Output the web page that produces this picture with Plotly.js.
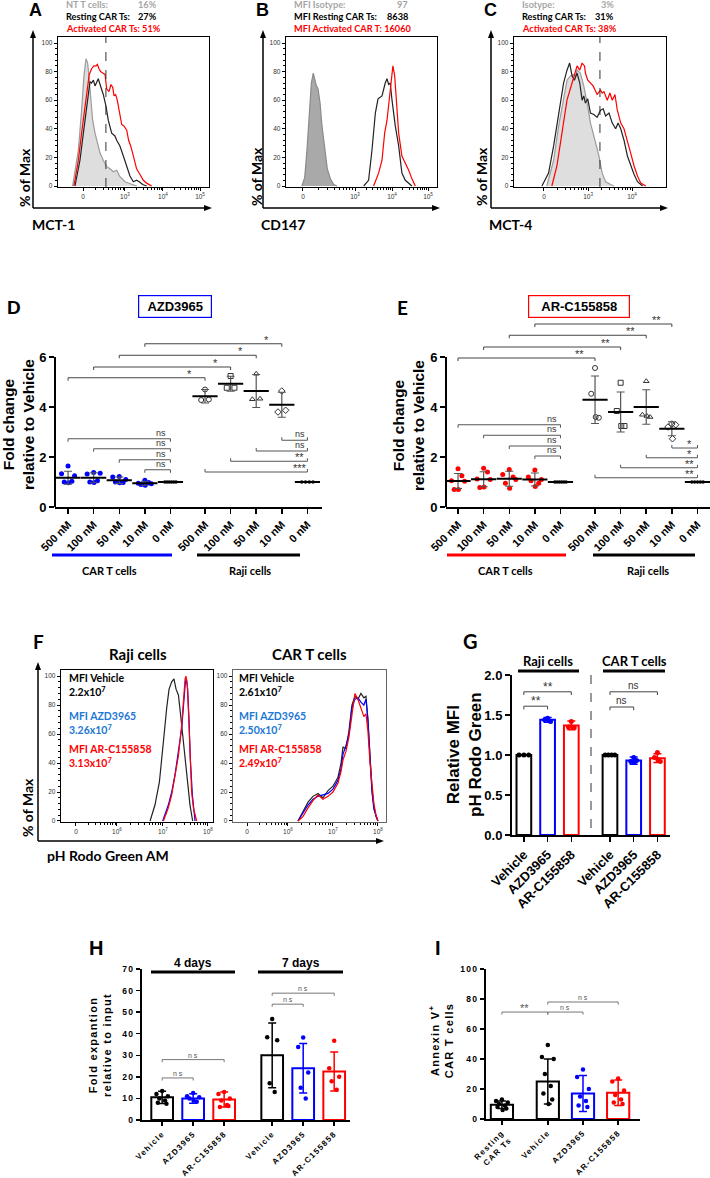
<!DOCTYPE html>
<html><head><meta charset="utf-8">
<script src="https://cdn.plot.ly/plotly-3.0.1.min.js"></script>
<style>html,body{margin:0;padding:0;background:#fff;}#chart{width:710px;height:1178px;}</style>
</head><body><div id="chart"></div>
<script>
// ===================== DATA =====================
// A: MCT-1 histograms (x: display channel 0-1024, y: % of max)
const A_nt_x=[99,138,160,176,190,201,212,221,235,251,267,285,307,330,353,375,398,420,454,499,533];
const A_nt_y=[0,25,53,77,89,86,74,60,46,37,30,23,18,13.5,12,10,11,6.5,3,1.4,0];
const A_rest_x=[115,149,172,190,206,217,228,240,251,262,273,285,296,307,325,341,364,386,398,420,443,466,488,511,533,551,574,601];
const A_rest_y=[0,18,37,53,67,73,72,74,70,73,75,71,68,64,56,46,37,35,32,28,21,14,7,3,4,3,1,0];
const A_act_x=[108,138,160,183,199,212,228,244,258,267,278,289,303,319,330,346,359,371,380,391,402,416,432,447,466,479,493,511,533,556,579,601,635];
const A_act_y=[0,18,37,56,70,78,82,84,84,85,82,80,79,78,68,66,71,69,63,64,60,53,43,42,39,32,28,21,12,8,4,2,0];
const A_gate=325;
const A_labels=['NT T cells:','Resting CAR Ts:','Activated CAR Ts:'];
const A_values=['16%','27%','51%'];
// B: CD147
const B_iso_x=[108,127,142,158,172,185,194,206,217,231,244,262,280,301,323,346];
const B_iso_y=[0,6,25,55,72,79,74,70,68,58,42,25,12,5,1,0];
const B_rest_x=[527,560,583,606,624,651,673,685,696,707,719,741,764,786,809,832,854];
const B_rest_y=[0,4,25,51,61,63,72,75,71,72,60,42,28,9,4,2,0];
const B_act_x=[594,628,651,669,685,701,714,725,737,753,764,786,809,832,854,877];
const B_act_y=[0,9,18,37,46,60,74,84,77,56,37,21,16,11,5,0];
const B_labels=['MFI Isotype:','MFI Resting CAR Ts:','MFI Activated CAR T:'];
const B_values=['97','8638','16060'];
// C: MCT-4
const C_iso_x=[221,267,301,334,357,380,402,414,425,447,470,493,515,533,549,572,594,617,651,673];
const C_iso_y=[0,18,42,60,74,77,78,77,81,79,70,58,44,37,30,21,9,3,1,0];
const C_rest_x=[188,233,267,301,334,357,375,391,407,425,443,459,470,481,497,515,538,560,583,601,617,640,662,685,701,719,741,764,786,809,832,866];
const C_rest_y=[0,9,28,51,72,81,86,77,74,79,72,60,63,58,61,51,50,48,53,54,49,51,44,40,44,40,32,21,14,8,3,0];
const C_act_x=[255,289,323,357,391,414,425,443,459,475,481,497,515,533,560,583,594,606,628,646,662,680,696,719,741,764,786,809,832,854,888];
const C_act_y=[0,14,37,60,72,81,84,81,86,84,79,74,72,70,64,67,65,66,60,65,60,64,53,44,40,32,23,14,7,2,0];
const C_gate=579;
const C_labels=['Isotype:','Resting CAR Ts:','Activated CAR Ts:'];
const C_values=['3%','31%','38%'];

// D / E: fold change
const DE_cats=['500 nM','100 nM','50 nM','10 nM','0 nM','500 nM','100 nM','50 nM','10 nM','0 nM'];
const D_car_pts=[[1.64,1.33,1.25,1.0,0.97,1.03],[1.38,1.32,1.35,1.0,0.98,1.05],[1.22,1.2,1.1,1.0,0.97,0.98],[1.07,0.95,0.93,0.9,0.87,0.98],[1,1,1,1,1,1]];
const D_raji_pts=[[4.7,4.28,4.3],[5.24,4.77,4.77],[5.33,4.31,4.33],[4.64,3.8,3.87],[1,1,1,1]];
const D_mean=[1.17,1.17,1.07,0.95,1.0,4.43,4.93,4.64,4.09,1.0];
const D_sd=[0.26,0.2,0.13,0.08,0,0.27,0.3,0.66,0.5,0];
const E_car_pts=[[1.53,1.05,1.03,0.7,0.7,1.25],[1.55,1.12,1.1,0.78,0.8,1.4],[1.5,1.3,1.1,0.95,0.75,1.2],[1.48,1.2,1.1,1.05,0.82,0.95],[1,1,1,1,1,1]];
const E_raji_pts=[[5.56,4.53,3.57,3.6],[4.97,3.84,3.24,3.24],[5.03,3.69,3.6,3.64],[3.32,3.2,3.29,2.73],[1,1,1,1,1]];
const E_mean=[1.04,1.11,1.13,1.1,1.0,4.29,3.8,4.0,3.13,1.0];
const E_sd=[0.3,0.3,0.3,0.26,0,0.95,0.8,0.69,0.28,0];
// significance: [from, to, y, label]
const D_sig_top=[[0,5,5.17,'*'],[1,6,5.6,'*'],[2,7,6.07,'*'],[3,8,6.53,'*']];
const D_sig_car=[[0,4,2.73,'ns'],[1,4,2.33,'ns'],[2,4,1.89,'ns'],[3,4,1.49,'ns']];
const D_sig_raji=[[8,9,2.67,'ns'],[7,9,2.24,'ns'],[6,9,1.83,'**'],[5,9,1.4,'***']];
const E_sig_top=[[0,5,5.96,'**'],[1,6,6.4,'**'],[2,7,6.87,'**'],[3,8,7.32,'**']];
const E_sig_car=[[0,4,3.29,'ns'],[1,4,2.87,'ns'],[2,4,2.44,'ns'],[3,4,2.04,'ns']];
const E_sig_raji=[[8,9,2.36,'*'],[7,9,1.97,'*'],[6,9,1.57,'**'],[5,9,1.17,'**']];

// F: pH Rodo Green histograms
const F_raji_veh_x=[600,633,663,678,694,712,728,746,761,775,791,806,820,836,851,869,887];
const F_raji_veh_y=[0,11,27,41,59,78,91,96,98,91,87,73,59,41,27,11,0];
const F_raji_azd_x=[685,723,746,768,791,813,824,838,845,853,862,871,885,903];
const F_raji_azd_y=[0,11,20,32,48,64,78,96,98,91,71,43,18,0];
const F_raji_ar_x=[690,723,746,768,791,813,824,836,842,851,860,869,880,892,914];
const F_raji_ar_y=[0,9,18,32,45,66,82,98,100,94,73,43,20,9,0];
const F_car_x=[435,468,502,535,569,602,636,669,702,723,736,756,776,796,816,836,856,876,890,903,917,930,943,957,970];
const F_car_veh_y=[0,6,13,17,19,16,21,24,30,40,51,50,62,80,86,84,88,85,86,70,45,22,10,3,0];
const F_car_azd_y=[0,5,11,15,17,18,19,22,28,36,46,52,60,78,84,85,82,80,84,70,42,20,8,3,0];
const F_car_ar_y=[0,3,9,14,18,15,17,20,26,34,42,48,58,72,88,84,78,72,74,62,40,24,12,4,0];
const F_mfi_raji=['2.2','3.26','3.13'];
const F_mfi_car=['2.61','2.50','2.49'];

// G: relative MFI
const G_cats=['Vehicle','AZD3965','AR-C155858','Vehicle','AZD3965','AR-C155858'];
const G_mean=[1.0,1.44,1.37,1.0,0.93,0.96];
const G_sd=[0,0.03,0.055,0,0.045,0.055];
const G_pts=[[1,1,1],[1.46,1.44,1.42],[1.42,1.35,1.34],[1,1,1,1],[0.97,0.92,0.93,0.91],[1.03,0.97,0.92,0.94]];
const G_sig=[[0,1,1.61,'**'],[0,2,1.79,'**'],[3,4,1.6,'ns'],[3,5,1.79,'ns']];

// H: fold expansion
const H_cats=['Vehicle','AZD3965','AR-C155858','Vehicle','AZD3965','AR-C155858'];
const H_mean=[10.5,10,9.5,30,24,22.5];
const H_sd=[2.8,2.2,3.5,15,11.5,9];
const H_pts=[[13.5,12,11,10,9,8,7.5],[12.5,11,10.5,10,9,8.5],[13,12,10,9,7,6,6.5],[46.8,38.4,37,17,13],[38.3,33.8,22,15,10],[36.7,24,20,18,14]];
const H_sig=[[0,1,19.5,'n s'],[0,2,28,'n s'],[3,4,53.7,'n s'],[3,5,58.8,'n s']];

// I: Annexin V+
const I_cats=['Resting<br>CAR Ts','Vehicle','AZD3965','AR-C155858'];
const I_mean=[9.5,25,17,17.5];
const I_sd=[2.5,15,12,8.5];
const I_pts=[[13,12,11,10,9,8,7,6],[49.3,41.3,40,30,22,17,13,10],[33,28,20,15,12,9,8],[27,25,19,16,13,11,10]];
const I_sig=[[0,1,71.3,'**'],[1,2,71.3,'n s'],[1,3,78,'n s']];

// ===================== LAYOUT HELPERS =====================
const W=710,H=1178;
const X=p=>p/W, Y=p=>1-p/H;
const CAL="Lato, 'Open Sans', sans-serif", ARI="'Liberation Sans', Arial, sans-serif";
const BLUE='#0000ff', RED='#ff0000', GRAY='#a6a6a6', LBLUE='#2277d4';
const data=[], ann=[], shapes=[], spaced=[];
const layout={width:W,height:H,margin:{l:0,r:0,t:0,b:0},showlegend:false,barmode:'overlay',
  paper_bgcolor:'#fff',plot_bgcolor:'rgba(0,0,0,0)',font:{family:ARI,color:'#000'},annotations:ann,shapes:shapes};
function F(size,family,color,weight){return {size:size,family:family||ARI,color:color||'#000',weight:weight||'bold'};}
function txt(x,y,text,font,o){ann.push(Object.assign({xref:'paper',yref:'paper',x:X(x),y:Y(y),text:text,showarrow:false,xanchor:'center',yanchor:'middle',font:font},o||{}));return ann.length-1;}
function pline(x0,y0,x1,y1,w,color,dash){shapes.push({type:'line',xref:'paper',yref:'paper',x0:X(x0),y0:Y(y0),x1:X(x1),y1:Y(y1),line:{width:w,color:color||'#000',dash:dash||'solid'}});}
function tri(pts){shapes.push({type:'path',xref:'paper',yref:'paper',path:'M'+pts.map(p=>X(p[0])+','+Y(p[1])).join('L')+'Z',fillcolor:'#000',line:{width:0}});}
function arrows(xv,ytop,ybot,xright){
  pline(xv,ybot,xv,ytop+5,1.5); tri([[xv,ytop],[xv-3,ytop+8],[xv+3,ytop+8]]);
  pline(xv,ybot,xright-5,ybot,1.5); tri([[xright,ybot],[xright-8,ybot-3],[xright-8,ybot+3]]);
}
function axes(n,xd,yd,xc,yc){
  const k=n>1?n:'';
  layout['xaxis'+k]=Object.assign({domain:[X(xd[0]),X(xd[1])],anchor:'y'+k,showgrid:false,zeroline:false,fixedrange:true,automargin:false},xc);
  layout['yaxis'+k]=Object.assign({domain:[Y(yd[1]),Y(yd[0])],anchor:'x'+k,showgrid:false,zeroline:false,fixedrange:true,automargin:false},yc);
  return {xa:'x'+k,ya:'y'+k};
}
function decadeMinors(m){const out=[];for(let k=0;k<m.length-1;k++){for(let j=2;j<=9;j++)out.push(m[k]+Math.log10(j)*(m[k+1]-m[k]));}return out;}
function flowPanel(n,xd,yd,tickv,tickt,lc){
  const ym=[];for(let v=4;v<100;v+=4){if(v%20)ym.push(v);}
  const common={showline:true,mirror:true,linecolor:lc||'#000',linewidth:1.3,ticks:'outside',ticklen:3,tickwidth:1,tickcolor:'#000',tickmode:'array',tickfont:F(6.5,ARI,'#333','normal')};
  return axes(n,xd,yd,
    Object.assign({},common,{range:[0,1024],tickvals:tickv,ticktext:tickt,minor:{tickmode:'array',tickvals:decadeMinors(tickv),ticks:'outside',ticklen:2,tickcolor:'#000'}}),
    Object.assign({},common,{range:[-0.7,104.2],tickvals:[0,20,40,60,80,100],minor:{tickmode:'array',tickvals:ym,ticks:'outside',ticklen:2,tickcolor:'#000'}}));
}
function hist(a,xs,ys,color,fill){
  const t={type:'scatter',mode:'lines',x:xs,y:ys,xaxis:a.xa,yaxis:a.ya,line:{color:color,width:1.2},hoverinfo:'skip'};
  if(fill){t.fill='tozeroy';t.fillcolor=fill;}
  data.push(t);
}
function flowText(x0,x1,labels,values,colors){
  const ys=[5,17,29];
  labels.forEach((l,i)=>{
    if(i===2){txt(x0,ys[i],l+' '+values[i],F(9.2,CAL,colors[i]),{xanchor:'left'});}
    else{txt(x0,ys[i],l,F(9.2,CAL,colors[i]),{xanchor:'left'});txt(x1,ys[i],values[i],F(9.2,CAL,colors[i]),{xanchor:'right'});}
  });
}
const PAT={1:[0],2:[-0.5,0.5],3:[0,-0.6,0.6],4:[0,-0.6,0.6,0.1],5:[0,-0.7,0.7,-0.35,0.35],6:[0,-0.85,0.85,-0.5,0.05,0.5],7:[0,-0.8,0.8,-0.4,0.4,-0.6,0.6],8:[0,-0.8,0.8,-0.4,0.4,-0.6,0.6,0.1]};
function spread(vals){const n=vals.length;if(vals.every(v=>v===vals[0]))return vals.map((v,j)=>n>1?-1+2*j/(n-1):0);return PAT[n]||vals.map(()=>0);}
function bracket(a,x1,x2,y,label,o){
  const s=o.up?1:-1;
  shapes.push({type:'path',xref:a.xa,yref:a.ya,path:'M'+x1+','+(y+s*o.d)+'L'+x1+','+y+'L'+x2+','+y+'L'+x2+','+(y+s*o.d),line:{color:o.color||'#444',width:1}});
  const star=label.indexOf('*')>=0;
  ann.push({xref:a.xa,yref:a.ya,x:(o.lx!==undefined?o.lx:(x1+x2)/2),y:y,text:label,showarrow:false,xanchor:'center',yanchor:'bottom',
    yshift:star?(o.sshift||-4):-1,font:F(star?(o.sfs||11):(o.fs||9),ARI,o.tc||'#333','normal')});
}

// ===================== A B C =====================
const pA=flowPanel(1,[58,209],[37,187],[170,454,712,963],['0','10<sup>3</sup>','10<sup>4</sup>','10<sup>5</sup>']);
hist(pA,A_nt_x,A_nt_y,'#9b9b9b','#dedede');
hist(pA,A_rest_x,A_rest_y,'#222');
hist(pA,A_act_x,A_act_y,RED);
shapes.push({type:'line',xref:pA.xa,yref:pA.ya,x0:A_gate,x1:A_gate,y0:-0.7,y1:104.2,line:{dash:'dash',width:1,color:'#333'}});
const pB=flowPanel(2,[286,437],[37,187],[115,468,719,963],['0','10<sup>3</sup>','10<sup>4</sup>','10<sup>5</sup>']);
hist(pB,B_iso_x,B_iso_y,'#8a8a8a','#a9a9a9');
hist(pB,B_rest_x,B_rest_y,'#222');
hist(pB,B_act_x,B_act_y,RED);
const pC=flowPanel(3,[514,666],[37,187],[202,499,795],['0','10<sup>3</sup>','10<sup>4</sup>']);
hist(pC,C_iso_x,C_iso_y,'#9b9b9b','#dedede');
hist(pC,C_rest_x,C_rest_y,'#222');
hist(pC,C_act_x,C_act_y,RED);
shapes.push({type:'line',xref:pC.xa,yref:pC.ya,x0:C_gate,x1:C_gate,y0:-0.7,y1:104.2,line:{dash:'dash',width:1,color:'#333'}});
const tc=[GRAY,'#000',RED];
txt(35,10,'A',F(18)); flowText(64,159,A_labels,A_values,tc);
txt(262,10,'B',F(18)); flowText(292,410,B_labels,B_values,tc);
txt(490,10,'C',F(18)); flowText(520,616,C_labels,C_values,tc);
arrows(33,30,208,212); arrows(263,30,208,440); arrows(491,30,208,668);
txt(24,177,'% of Max',F(14,CAL),{textangle:-90});
txt(256,177,'% of Max',F(14,CAL),{textangle:-90});
txt(481,177,'% of Max',F(14,CAL),{textangle:-90});
txt(30,224,'MCT-1',F(14,CAL),{xanchor:'left'});
txt(259,224,'CD147',F(14,CAL),{xanchor:'left'});
txt(487,224,'MCT-4',F(14,CAL),{xanchor:'left'});

// ===================== D E =====================
const DE_pos=[0,1,2,3,4,5.35,6.35,7.35,8.35,9.35];
const RAJI_SYM=['circle-open','square-open','triangle-up-open','diamond-open'];
function dotPanel(n,xd,xr,carPts,rajiPts,mean,sd,carColor,sigTop,sigCar,sigRaji){
  const a=axes(n,xd,[317,507],
    {range:xr,showline:true,linewidth:2,linecolor:'#000',ticks:'outside',ticklen:5,tickwidth:1.5,tickcolor:'#000',tickmode:'array',tickvals:DE_pos,ticktext:DE_cats,tickangle:-45,tickfont:F(11)},
    {range:[0,7.6],showline:false,ticks:'outside',ticklen:5,tickwidth:2,tickcolor:'#000',tickmode:'array',tickvals:[0,2,4,6],tickfont:F(13)});
  shapes.push({type:'line',xref:'paper',yref:a.ya,x0:X(xd[0]),x1:X(xd[0]),y0:0,y1:6,line:{color:'#000',width:2}});
  carPts.forEach((p,i)=>{
    const off=spread(p), zero=(i===4);
    data.push({type:'scatter',mode:'markers',xaxis:a.xa,yaxis:a.ya,x:p.map((v,j)=>DE_pos[i]+off[j]*(zero?0.22:0.3)),y:p,
      marker:{color:zero?'#000':carColor,size:zero?3.5:5,symbol:'circle'},hoverinfo:'skip'});
  });
  rajiPts.forEach((p,i)=>{
    const k=i+5, off=spread(p), zero=(i===4);
    data.push({type:'scatter',mode:'markers',xaxis:a.xa,yaxis:a.ya,x:p.map((v,j)=>DE_pos[k]+off[j]*(zero?0.22:0.25)),y:p,
      marker:zero?{color:'#000',size:3.5,symbol:'circle'}:{color:'#333',size:5,symbol:RAJI_SYM[i],line:{width:1,color:'#333'}},hoverinfo:'skip'});
  });
  data.push({type:'scatter',mode:'markers',xaxis:a.xa,yaxis:a.ya,x:DE_pos,y:mean,
    error_y:{type:'data',array:sd,visible:true,color:'#555',thickness:1.2,width:4},
    marker:{symbol:'line-ew',size:18,color:'#000',line:{width:2,color:'#000'}},hoverinfo:'skip'});
  sigTop.forEach(s=>bracket(a,DE_pos[s[0]],DE_pos[s[1]],s[2],s[3],{d:0.12,lx:DE_pos[s[1]]-0.6}));
  sigCar.forEach(s=>bracket(a,DE_pos[s[0]],DE_pos[s[1]],s[2],s[3],{d:0.12,lx:DE_pos[s[1]]-0.35,color:'#555'}));
  sigRaji.forEach(s=>bracket(a,DE_pos[s[0]],DE_pos[s[1]],s[2],s[3],{d:0.12,up:true,lx:DE_pos[s[1]]-0.3,color:'#555'}));
  return a;
}
dotPanel(4,[55,322],[-0.51,9.92],D_car_pts,D_raji_pts,D_mean,D_sd,BLUE,D_sig_top,D_sig_car,D_sig_raji);
dotPanel(5,[446,710],[-0.47,9.84],E_car_pts,E_raji_pts,E_mean,E_sd,RED,E_sig_top,E_sig_car,E_sig_raji);
txt(14,307,'D',F(19));
txt(402,307,'E',F(19,CAL));
txt(175,306,'AZD3965',F(13),{bordercolor:BLUE,borderwidth:1.2,borderpad:3,width:66});
txt(579,306,'AR-C155858',F(13),{bordercolor:RED,borderwidth:1.2,borderpad:3,width:94});
txt(18,425,'Fold change<br>relative to Vehicle',F(15.5),{textangle:-90});
txt(409,426,'Fold change<br>relative to Vehicle',F(15.5),{textangle:-90});
pline(52,555,172,555,3,BLUE); pline(197,555,300,555,3,'#000');
txt(110,570,'CAR T cells',F(11,CAL)); txt(250,570,'Raji cells',F(11,CAL));
pline(447,555,566,555,3,RED); pline(593,555,695,555,3,'#000');
txt(505,570,'CAR T cells',F(11,CAL)); txt(648,570,'Raji cells',F(11,CAL));

// ===================== F =====================
const FT=['0','10<sup>6</sup>','10<sup>7</sup>','10<sup>8</sup>'];
const pF1=flowPanel(6,[61,213],[670,822],[101,377,687,990],FT);
hist(pF1,F_raji_veh_x,F_raji_veh_y,'#222');
hist(pF1,F_raji_azd_x,F_raji_azd_y,BLUE);
hist(pF1,F_raji_ar_x,F_raji_ar_y,RED);
const pF2=flowPanel(7,[233,386],[670,822],[94,368,669,970],FT,'#666');
hist(pF2,F_car_x,F_car_veh_y,'#222');
hist(pF2,F_car_x,F_car_azd_y,BLUE);
hist(pF2,F_car_x,F_car_ar_y,RED);
txt(38,641,'F',F(19,CAL));
txt(138,654,'Raji cells',F(15,CAL)); txt(309,654,'CAR T cells',F(15,CAL));
function mfiText(x,vals){
  const names=['MFI Vehicle','MFI AZD3965','MFI AR-C155858'], cols=['#000',LBLUE,RED], ys=[678,716,749];
  names.forEach((nm,i)=>{txt(x,ys[i],nm,F(10.5,CAL,cols[i]),{xanchor:'left'});txt(x,ys[i]+13,vals[i]+'x10<sup>7</sup>',F(10.5,CAL,cols[i]),{xanchor:'left'});});
}
mfiText(67,F_mfi_raji); mfiText(237,F_mfi_car);
arrows(38,662,841,384);
txt(27,808,'% of Max',F(14,CAL),{textangle:-90});
txt(45,855,'pH Rodo Green AM',F(14,CAL),{xanchor:'left'});

// ===================== bar helper =====================
function bars(a,pos,mean,sd,pts,colors,width,msize){
  pos.forEach((p,i)=>{
    data.push({type:'bar',x:[p],y:[mean[i]],xaxis:a.xa,yaxis:a.ya,width:width,
      marker:{color:'rgba(255,255,255,0)',line:{color:colors[i],width:2}},
      error_y:{type:'data',array:[sd[i]],visible:true,color:colors[i],thickness:1.5,width:4},hoverinfo:'skip'});
    const off=spread(pts[i]);
    data.push({type:'scatter',mode:'markers',xaxis:a.xa,yaxis:a.ya,x:pts[i].map((v,j)=>p+off[j]*width*0.33),y:pts[i],
      marker:{color:colors[i],size:msize,symbol:'circle'},hoverinfo:'skip'});
  });
}
const COL6=['#000',BLUE,RED,'#000',BLUE,RED];

// ===================== G =====================
const G_pos=[0,1,2,3.63,4.63,5.63];
const pG=axes(8,[512,670],[675,835],
  {range:[-0.5,6.16],showline:true,linewidth:2,linecolor:'#000',ticks:'outside',ticklen:5,tickwidth:1.5,tickcolor:'#000',tickmode:'array',tickvals:G_pos,ticktext:G_cats,tickangle:-45,tickfont:F(13)},
  {range:[0,2],showline:true,linewidth:2,linecolor:'#000',ticks:'outside',ticklen:5,tickwidth:2,tickcolor:'#000',tickmode:'array',tickvals:[0,0.5,1,1.5,2],ticktext:['0.0','0.5','1.0','1.5','2.0'],tickfont:F(13)});
bars(pG,G_pos,G_mean,G_sd,G_pts,COL6,0.62,5);
G_sig.forEach(s=>bracket(pG,G_pos[s[0]],G_pos[s[1]],s[2],s[3],{d:0.04,fs:10,sfs:12,color:'#444'}));
txt(470,641,'G',F(20,CAL));
txt(548,661,'Raji cells',F(13,CAL)); pline(518,671,579,671,3);
txt(634,661,'CAR T cells',F(13,CAL)); pline(603,671,665,671,3);
pline(591,675,591,834,1,'#333','dash');
txt(464,755,'Relative MFI<br>pH Rodo Green',F(17),{textangle:-90});

// ===================== H =====================
const H_pos=[0,1,2,3.55,4.55,5.55];
const pH=axes(9,[142,350],[969,1120],
  {range:[-0.65,6.06],showline:true,linewidth:2,linecolor:'#000',ticks:'outside',ticklen:4,tickwidth:1.5,tickcolor:'#000',tickmode:'array',tickvals:H_pos,ticktext:H_cats,tickangle:-45,tickfont:F(8)},
  {range:[0,70],showline:true,linewidth:2,linecolor:'#000',ticks:'outside',ticklen:4,tickwidth:1.5,tickcolor:'#000',tickmode:'array',tickvals:[0,10,20,30,40,50,60,70],tickfont:F(8.5)});
bars(pH,H_pos,H_mean,H_sd,H_pts,COL6,0.7,4.5);
H_sig.forEach(s=>bracket(pH,H_pos[s[0]],H_pos[s[1]],s[2],s[3],{d:1.2,fs:7,color:'#777',tc:'#555'}));
txt(96,948,'H',F(20));
txt(193,963,'4 days',F(12)); pline(151,972,235,972,3);
txt(301,963,'7 days',F(12)); pline(258,972,343,972,3);
spaced.push(txt(100,1045,'Fold expantion<br>relative to input',F(11),{textangle:-90}));

// ===================== I =====================
const I_pos=[0,1.24,2.19,3.14];
const pI=axes(10,[486,640],[969,1119],
  {range:[-0.43,3.73],showline:true,linewidth:2,linecolor:'#000',ticks:'outside',ticklen:4,tickwidth:1.5,tickcolor:'#000',tickmode:'array',tickvals:I_pos,ticktext:I_cats,tickangle:-45,tickfont:F(8)},
  {range:[0,100],showline:true,linewidth:2,linecolor:'#000',ticks:'outside',ticklen:4,tickwidth:1.5,tickcolor:'#000',tickmode:'array',tickvals:[0,20,40,60,80,100],tickfont:F(8.5)});
bars(pI,I_pos,I_mean,I_sd,I_pts,['#000','#000',BLUE,RED],0.6,4.5);
I_sig.forEach(s=>bracket(pI,I_pos[s[0]],I_pos[s[1]],s[2],s[3],{d:1.7,fs:7,color:'#777',tc:'#555'}));
txt(438,948,'I',F(20));
spaced.push(txt(441,1040,'Annexin V<sup>+</sup><br>CAR T cells',F(11),{textangle:-90}));

Plotly.newPlot('chart',data,layout,{staticPlot:true}).then(gd=>{
  gd.querySelectorAll('.x9tick text,.y9tick text,.x10tick text,.y10tick text').forEach(t=>{t.style.letterSpacing='1.3px';});
  spaced.forEach(i=>{const t=gd.querySelector('.annotation[data-index="'+i+'"] text');if(t)t.style.letterSpacing='1.3px';});
});
</script>
</body></html>
